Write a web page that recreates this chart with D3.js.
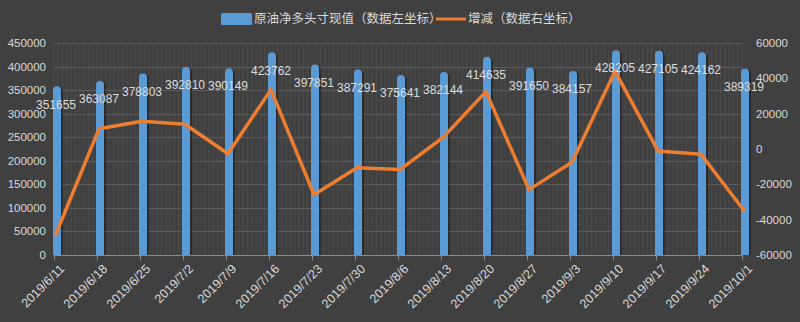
<!DOCTYPE html>
<html>
<head>
<meta charset="utf-8">
<script src="https://cdn.jsdelivr.net/npm/d3@7"></script>
<style>
  html, body { margin: 0; padding: 0; background: #404040; }
  svg { display: block; }
  text { fill: #d9d9d9; font-family: "Liberation Sans", Arial, sans-serif; }
  .cjk { font-family: "Noto Sans CJK SC", sans-serif; }
</style>
</head>
<body>
<div id="chart"></div>
<script>
// data
var dates = ['2019/6/11', '2019/6/18', '2019/6/25', '2019/7/2', '2019/7/9', '2019/7/16', '2019/7/23',
    '2019/7/30', '2019/8/6', '2019/8/13', '2019/8/20', '2019/8/27', '2019/9/3', '2019/9/10',
    '2019/9/17', '2019/9/24', '2019/10/1'];
var netLong = [351655, 363087, 378803, 392810, 390149, 423762, 397851, 387291, 375641, 382144,
    414635, 391650, 384157, 428205, 427105, 424162, 389319];
var change = [-48100, 11432, 15716, 14007, -2661, 33613, -25911, -10560, -11650, 6503,
    32491, -22985, -7493, 44048, -1100, -2943, -34843];
var leftTicks = [0, 50000, 100000, 150000, 200000, 250000, 300000, 350000, 400000, 450000];
var rightTicks = [-60000, -40000, -20000, 0, 20000, 40000, 60000];
var barName = '原油净多头寸现值（数据左坐标）';
var lineName = '增减（数据右坐标）';

var width = 800,
    height = 322,
    margin = { left: 54, right: 58, top: 43, bottom: 67 },
    shift = 3,          // bars and line sit a little right of the tick marks
    barWidth = 8;

var svg = d3.select('#chart').append('svg')
    .attr('width', width)
    .attr('height', height);

svg.append('rect')
    .attr('width', width)
    .attr('height', height)
    .attr('fill', '#404040');

var x = d3.scalePoint()
    .domain(dates)
    .range([margin.left, width - margin.right]);

var yL = d3.scaleLinear()
    .domain([0, 450000])
    .range([height - margin.bottom, margin.top]);

var yR = d3.scaleLinear()
    .domain([-60000, 60000])
    .range([height - margin.bottom, margin.top]);

var plotRight = width - margin.right;
var step = x.step();

// minor vertical grid
var minor = d3.range(margin.left, plotRight + 0.1, step / 10);
svg.append('g').selectAll('line')
    .data(minor)
    .enter()
    .append('line')
    .attr('x1', function (d) { return d; })
    .attr('x2', function (d) { return d; })
    .attr('y1', margin.top)
    .attr('y2', height - margin.bottom)
    .attr('stroke', '#4a4a4a')
    .attr('stroke-width', 1);

// major horizontal grid
svg.append('g').selectAll('line')
    .data(leftTicks)
    .enter()
    .append('line')
    .attr('x1', margin.left)
    .attr('x2', plotRight)
    .attr('y1', function (d) { return Math.round(yL(d)) + 0.5; })
    .attr('y2', function (d) { return Math.round(yL(d)) + 0.5; })
    .attr('stroke', '#5c5c5c')
    .attr('stroke-width', 1);

// bottom axis with ticks
var xAxis = svg.append('g')
    .attr('transform', 'translate(0,' + (Math.round(yL(0)) + 0.5) + ')');
xAxis.append('line')
    .attr('x1', margin.left)
    .attr('x2', plotRight + 1)
    .attr('stroke', '#8a8a8a');
xAxis.selectAll('.tick')
    .data(dates)
    .enter()
    .append('line')
    .attr('class', 'tick')
    .attr('x1', function (d) { return Math.round(x(d)) + 0.5; })
    .attr('x2', function (d) { return Math.round(x(d)) + 0.5; })
    .attr('y1', 0)
    .attr('y2', 5)
    .attr('stroke', '#8a8a8a');

xAxis.selectAll('text')
    .data(dates)
    .enter()
    .append('text')
    .attr('transform', function (d) {
        return 'translate(' + (x(d) + 8) + ',11) rotate(-45)';
    })
    .attr('text-anchor', 'end')
    .attr('dy', '0.35em')
    .style('font-size', '12.5px')
    .text(function (d) { return d; });

// left axis labels
svg.append('g').selectAll('text')
    .data(leftTicks)
    .enter()
    .append('text')
    .attr('x', margin.left - 8)
    .attr('y', function (d) { return yL(d); })
    .attr('dy', '0.35em')
    .attr('text-anchor', 'end')
    .style('font-size', '11.5px')
    .text(function (d) { return d; });

// right axis labels
svg.append('g').selectAll('text')
    .data(rightTicks)
    .enter()
    .append('text')
    .attr('x', plotRight + 14)
    .attr('y', function (d) { return yR(d); })
    .attr('dy', '0.35em')
    .attr('text-anchor', 'start')
    .style('font-size', '11.5px')
    .text(function (d) { return d; });

// bars: shadow, then rounded bar
var bars = svg.append('g');
var barPath = function (cx, top, bottom, w) {
    var r = w / 2;
    var l = cx - r;
    return 'M' + l + ',' + bottom + 'V' + (top + r) +
        'A' + r + ',' + r + ' 0 0 1 ' + (l + w) + ',' + (top + r) +
        'V' + bottom + 'Z';
};
bars.selectAll('.shadow')
    .data(netLong)
    .enter()
    .append('path')
    .attr('class', 'shadow')
    .attr('d', function (d, i) {
        return barPath(x(dates[i]) + shift + 2, yL(d) - 2, yL(0), barWidth);
    })
    .attr('fill', 'rgba(0,0,0,0.35)');
bars.selectAll('.bar')
    .data(netLong)
    .enter()
    .append('path')
    .attr('class', 'bar')
    .attr('d', function (d, i) {
        return barPath(x(dates[i]) + shift, yL(d) - 3, yL(0), barWidth);
    })
    .attr('fill', '#5b9bd5');

// line
var line = d3.line()
    .x(function (d, i) { return x(dates[i]) + shift - 1; })
    .y(function (d) { return yR(d); });

svg.append('path')
    .datum(change)
    .attr('d', line)
    .attr('fill', 'none')
    .attr('stroke', '#ed7d31')
    .attr('stroke-width', 3.5)
    .attr('stroke-linejoin', 'round')
    .attr('stroke-linecap', 'round');

// data labels
svg.append('g').selectAll('text')
    .data(netLong)
    .enter()
    .append('text')
    .attr('x', function (d, i) { return x(dates[i]) + shift - 1; })
    .attr('y', function (d) { return yL(d) + 15; })
    .attr('dy', '0.35em')
    .attr('text-anchor', 'middle')
    .style('font-size', '12px')
    .style('fill', '#dcdcdc')
    .text(function (d) { return d; });

// legend
var legend = svg.append('g').attr('transform', 'translate(221,19)');
legend.append('rect')
    .attr('x', 0)
    .attr('y', -6)
    .attr('width', 31)
    .attr('height', 12)
    .attr('rx', 1.5)
    .attr('fill', '#5b9bd5');
legend.append('text')
    .attr('class', 'cjk')
    .attr('x', 33)
    .attr('dy', '0.35em')
    .style('font-size', '12.5px')
    .text(barName);
legend.append('line')
    .attr('x1', 215)
    .attr('x2', 245)
    .attr('stroke', '#ed7d31')
    .attr('stroke-width', 3);
legend.append('text')
    .attr('class', 'cjk')
    .attr('x', 247)
    .attr('dy', '0.35em')
    .style('font-size', '12.5px')
    .text(lineName);
</script>
</body>
</html>
